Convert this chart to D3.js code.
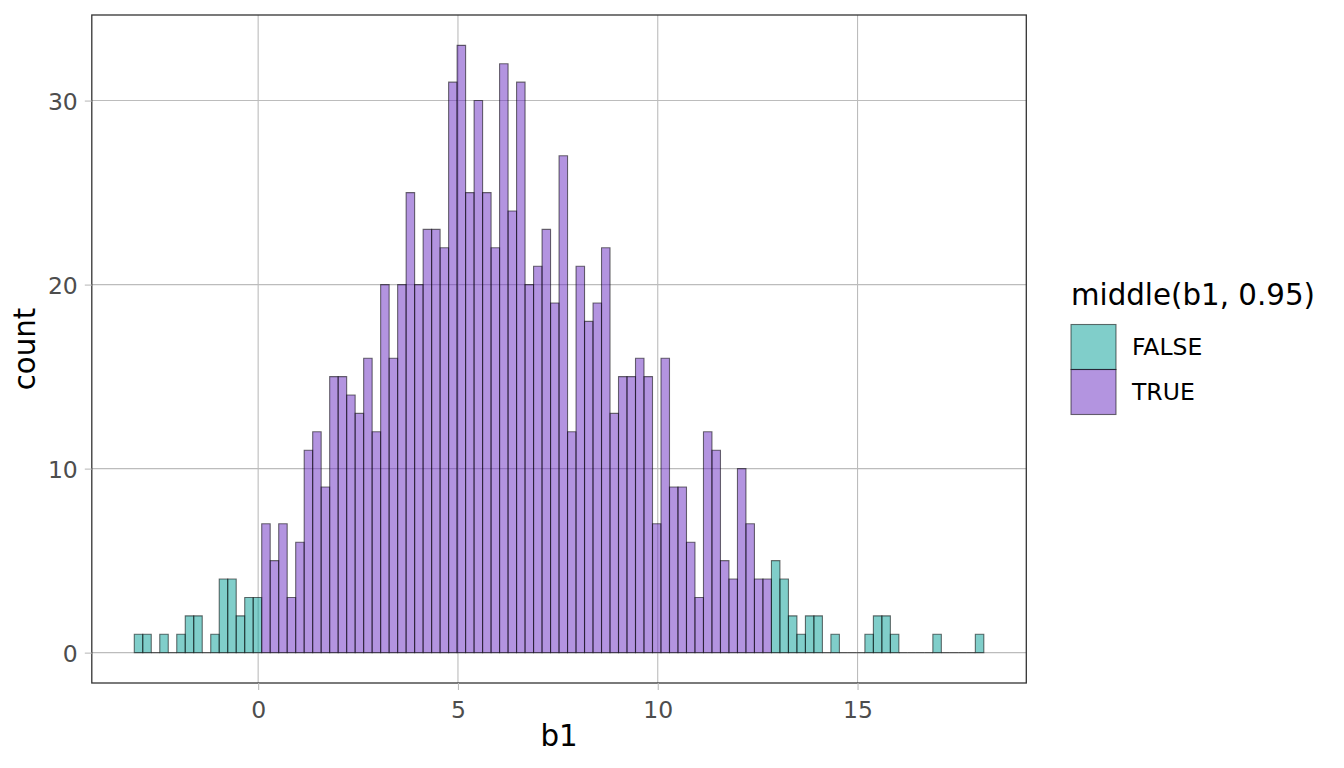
<!DOCTYPE html>
<html lang="en">
  <head>
    <meta charset="UTF-8" />
    <title>middle(b1, 0.95)</title>
    <script src="https://cdn.jsdelivr.net/npm/d3@7"></script>
    <style>
      body { margin: 0; background: #fff; }
      svg text { font-family: "DejaVu Sans", sans-serif; }
    </style>
  </head>
  <body>
    <svg id="chart" width="1344" height="768"></svg>
    <script>
      // histogram of b1: 100 bins, counts
      const binStart = -3.1;
      const binWidth = 0.2126;
      const counts = [
        1, 1, 0, 1, 0, 1, 2, 2, 0, 1, 4, 4, 2, 3, 3,
        7, 5, 7, 3, 6, 11, 12, 9, 15, 15, 14, 13, 16, 12, 20, 16, 20, 25, 20, 23, 23, 22,
        31, 33, 25, 30, 25, 22, 32, 24, 31, 20, 21, 23, 19, 27, 12, 21, 18, 19, 22, 13, 15, 15, 16,
        15, 7, 16, 9, 9, 6, 3, 12, 11, 5, 4, 10, 7, 4, 4,
        5, 4, 2, 1, 2, 2, 0, 1, 0, 0, 0, 1, 2, 2, 1, 0, 0, 0, 0, 1, 0, 0, 0, 0, 1,
      ];
      // middle 95% of b1
      const middleRange = [0.09, 12.85];
      const groups = ["FALSE", "TRUE"];
      const groupColors = ["#019d95", "#6729c1"];
      const xTicks = [0, 5, 10, 15];
      const yTicks = [0, 10, 20, 30];

      const panel = { left: 91.8, right: 1026.3, top: 15, bottom: 683 };

      const bins = counts.map((c, i) => {
        const x0 = binStart + i * binWidth;
        const x1 = x0 + binWidth;
        const mid = (x0 + x1) / 2;
        const group = mid > middleRange[0] && mid < middleRange[1] ? "TRUE" : "FALSE";
        return { x0, x1, count: c, group };
      });

      const xLo = bins[0].x0;
      const xHi = bins[bins.length - 1].x1;
      const xPad = (xHi - xLo) * 0.05;
      const yMax = d3.max(counts);

      const x = d3.scaleLinear()
        .domain([xLo - xPad, xHi + xPad])
        .range([panel.left, panel.right]);
      const y = d3.scaleLinear()
        .domain([-yMax * 0.05, yMax * 1.05])
        .range([panel.bottom, panel.top]);
      const color = d3.scaleOrdinal().domain(groups).range(groupColors);

      const svg = d3.select("#chart");

      // grid
      const grid = svg.append("g").attr("stroke", "#bcbcbc").attr("stroke-width", 1.1);
      grid.selectAll(".gx").data(xTicks).join("line")
        .attr("x1", (d) => x(d)).attr("x2", (d) => x(d))
        .attr("y1", panel.top).attr("y2", panel.bottom);
      grid.selectAll(".gy").data(yTicks).join("line")
        .attr("y1", (d) => y(d)).attr("y2", (d) => y(d))
        .attr("x1", panel.left).attr("x2", panel.right);

      // bars (paths so empty bins still leave a line on the baseline)
      svg.append("g")
        .selectAll("path")
        .data(bins)
        .join("path")
        .attr("d", (d) => {
          const p = d3.path();
          p.moveTo(x(d.x0), y(0));
          p.lineTo(x(d.x0), y(d.count));
          p.lineTo(x(d.x1), y(d.count));
          p.lineTo(x(d.x1), y(0));
          p.closePath();
          return p.toString();
        })
        .attr("fill", (d) => color(d.group))
        .attr("fill-opacity", 0.5)
        .attr("stroke", "#000")
        .attr("stroke-opacity", 0.55)
        .attr("stroke-width", 1.1);

      // panel border
      svg.append("rect")
        .attr("x", panel.left).attr("y", panel.top)
        .attr("width", panel.right - panel.left)
        .attr("height", panel.bottom - panel.top)
        .attr("fill", "none")
        .attr("stroke", "#333")
        .attr("stroke-width", 1.3);

      // axes
      const xAxis = svg.append("g")
        .attr("transform", `translate(0,${panel.bottom})`)
        .call(d3.axisBottom(x).tickValues(xTicks).tickSize(7).tickPadding(6));
      const yAxis = svg.append("g")
        .attr("transform", `translate(${panel.left},0)`)
        .call(d3.axisLeft(y).tickValues(yTicks).tickSize(7).tickPadding(7));
      [xAxis, yAxis].forEach((a) => {
        a.select(".domain").remove();
        a.selectAll(".tick line").attr("stroke", "#bcbcbc").attr("stroke-width", 1.1);
        a.selectAll(".tick text")
          .attr("fill", "#4d4d4d")
          .style("font-size", "23.5px")
          .style("font-family", "DejaVu Sans");
      });
      xAxis.selectAll(".tick text").attr("dy", "0.95em");
      yAxis.selectAll(".tick text").attr("dy", "0.36em");

      // axis titles
      svg.append("text")
        .attr("x", (panel.left + panel.right) / 2)
        .attr("y", 746)
        .attr("text-anchor", "middle")
        .style("font-size", "29.3px")
        .text("b1");
      svg.append("text")
        .attr("transform", `translate(35,${(panel.top + panel.bottom) / 2}) rotate(-90)`)
        .attr("text-anchor", "middle")
        .style("font-size", "29.3px")
        .text("count");

      // legend
      const legend = svg.append("g").attr("transform", "translate(1071,0)");
      legend.append("text")
        .attr("x", 0).attr("y", 305)
        .style("font-size", "29.3px")
        .text("middle(b1, 0.95)");
      const keys = legend.selectAll(".key").data(groups).join("g")
        .attr("transform", (d, i) => `translate(0,${324.5 + i * 45})`);
      keys.append("rect")
        .attr("width", 45).attr("height", 45)
        .attr("fill", (d) => color(d))
        .attr("fill-opacity", 0.5)
        .attr("stroke", "#000")
        .attr("stroke-opacity", 0.55)
        .attr("stroke-width", 1.1);
      keys.append("text")
        .attr("x", 61).attr("y", 22.5)
        .attr("dy", "0.36em")
        .style("font-size", "23.5px")
        .text((d) => d);
    </script>
  </body>
</html>
